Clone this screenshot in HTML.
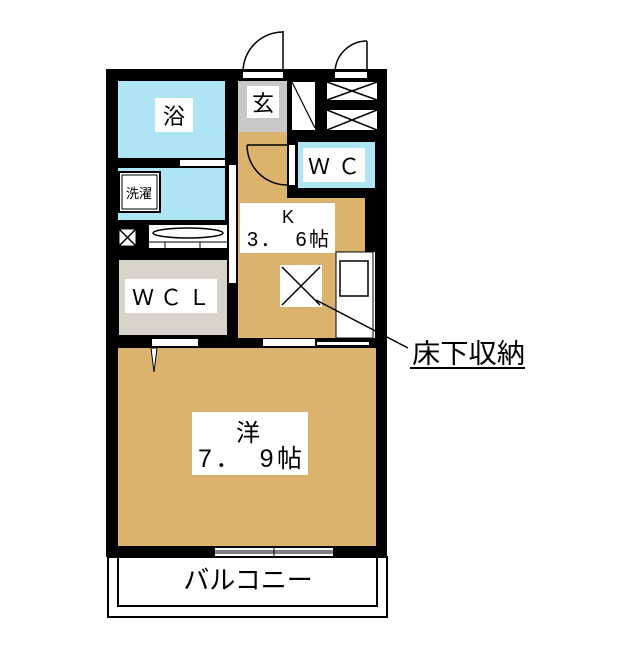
<!DOCTYPE html>
<html><head><meta charset="utf-8"><style>
body{margin:0;background:#fff}
svg text{font-family:"Liberation Sans","Noto Sans CJK JP",sans-serif;fill:#000}
</style></head><body>
<svg width="640" height="640" viewBox="0 0 640 640" xmlns="http://www.w3.org/2000/svg">
<rect x="106" y="69" width="281" height="488" fill="#000"/>
<rect x="118" y="81" width="107" height="77" fill="#aee4f3"/>
<rect x="118" y="168" width="107" height="52" fill="#aee4f3"/>
<rect x="180" y="160" width="45" height="6" fill="#fff"/>
<rect x="119" y="172" width="41" height="40" fill="#fff" stroke="#000" stroke-width="2"/>
<rect x="122" y="175" width="35" height="34" fill="none" stroke="#000" stroke-width="1"/>
<rect x="119" y="229" width="17" height="17" fill="#fff" stroke="#000" stroke-width="1"/>
<path d="M119 229L136 246M136 229L119 246" stroke="#000" stroke-width="1.5"/>
<rect x="149" y="225" width="78" height="23" fill="#fff"/>
<ellipse cx="188" cy="233" rx="35" ry="5" fill="none" stroke="#000" stroke-width="1.5"/>
<path d="M149 242H227M165 242V248M200 242V248" stroke="#000" stroke-width="1"/>
<rect x="119" y="260" width="108" height="75" fill="#d6d3c8"/>
<rect x="229" y="165" width="7" height="118" fill="#fff"/>
<rect x="238" y="132" width="127" height="206" fill="#dcb36c"/>
<rect x="287" y="130" width="93" height="68" fill="#000"/>
<rect x="298" y="142" width="77" height="46" fill="#aee4f3"/>
<rect x="289" y="145" width="6" height="40" fill="#fff"/>
<path d="M247 145H287M247 145A40 40 0 0 0 287 185" fill="none" stroke="#000" stroke-width="1.5"/>
<rect x="365" y="198" width="22" height="140" fill="#000"/>
<rect x="373" y="252" width="2" height="86" fill="#fff"/>
<rect x="336" y="252" width="37" height="86" fill="#fff" stroke="#000" stroke-width="1"/>
<rect x="340" y="261" width="28" height="35" fill="#fff" stroke="#000" stroke-width="1.5"/>
<rect x="238" y="81" width="49" height="51" fill="#c8c8c8"/>
<rect x="292" y="82" width="23" height="48" fill="#fff"/>
<path d="M292 82L315 128" stroke="#000" stroke-width="1.2"/>
<rect x="327" y="82" width="50" height="18" fill="#fff"/>
<rect x="327" y="110" width="50" height="20" fill="#fff"/>
<path d="M327 82L377 100M377 82L327 100M327 110L377 130M377 110L327 130" stroke="#000" stroke-width="1.5"/>
<rect x="243" y="72" width="40" height="6" fill="#fff"/>
<path d="M283 72V31M243 72A40 40 0 0 1 283 32" fill="none" stroke="#000" stroke-width="1.5"/>
<rect x="335" y="72" width="32" height="6" fill="#fff"/>
<path d="M367 72V41M335 72A32 32 0 0 1 367 41" fill="none" stroke="#000" stroke-width="1.5"/>
<rect x="118" y="348" width="258" height="198" fill="#dcb36c"/>
<rect x="152" y="339" width="46" height="7" fill="#fff"/>
<rect x="263" y="339" width="52" height="7" fill="#fff"/>
<rect x="317" y="342" width="52" height="3" fill="#fff"/>
<path d="M151 348L154 372L157 348Z" fill="#fff" stroke="#000" stroke-width="1"/>
<rect x="215" y="548" width="118" height="8" fill="#fff"/>
<path d="M215 551H333M215 553H333M274 546V558" stroke="#000" stroke-width="1"/>
<rect x="108" y="557" width="279" height="60" fill="#fff" stroke="#000" stroke-width="2"/>
<path d="M118 557V606H377V557" fill="none" stroke="#000" stroke-width="2"/>
<rect x="155" y="98" width="38" height="34" fill="#fff"/>
<text x="174" y="124" font-size="22" text-anchor="middle">浴</text>
<rect x="247" y="86" width="32" height="32" fill="#fff"/>
<text x="263" y="111" font-size="22" text-anchor="middle">玄</text>
<text x="139" y="198" font-size="13" text-anchor="middle">洗濯</text>
<rect x="303" y="148" width="62" height="34" fill="#fff"/>
<text x="308" y="174" font-size="22" textLength="52" lengthAdjust="spacing">ＷＣ</text>
<rect x="125" y="279" width="92" height="34" fill="#fff"/>
<text x="132" y="305" font-size="22" textLength="78" lengthAdjust="spacing">ＷＣＬ</text>
<rect x="240" y="203" width="95" height="50" fill="#fff"/>
<text x="288" y="223" font-size="18" text-anchor="middle">K</text>
<text x="247" y="246" font-size="20" textLength="82" lengthAdjust="spacing">3．　6帖</text>
<rect x="280" y="265" width="42" height="42" fill="#fff"/>
<path d="M282 267L320 305M320 267L282 305" stroke="#000" stroke-width="1.5"/>
<path d="M316 300L408 348" stroke="#000" stroke-width="1.5"/>
<text x="412" y="363" font-size="27" textLength="113" lengthAdjust="spacingAndGlyphs">床下収納</text>
<path d="M410 368H525" stroke="#000" stroke-width="2"/>
<rect x="192" y="412" width="116" height="63" fill="#fff"/>
<text x="248" y="441" font-size="24" text-anchor="middle">洋</text>
<text x="198" y="467" font-size="25" textLength="104" lengthAdjust="spacing">7．　9帖</text>
<text x="248" y="589" font-size="26" text-anchor="middle">バルコニー</text>
</svg>
</body></html>
